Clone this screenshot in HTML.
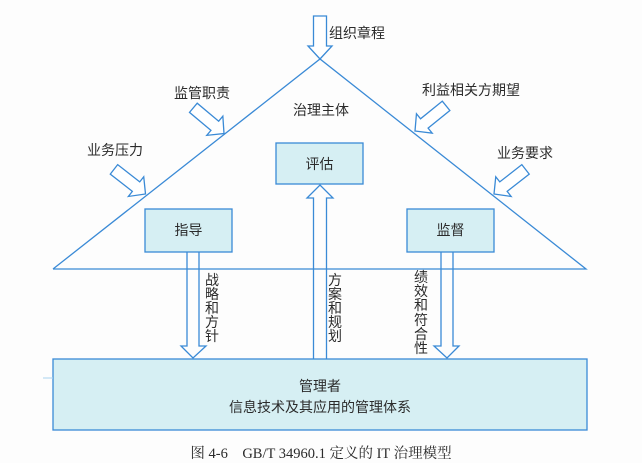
<!DOCTYPE html>
<html>
<head>
<meta charset="utf-8">
<style>
  html,body{margin:0;padding:0;background:#fff;}
  svg{display:block;}
  .t{font-family:"Liberation Sans","Noto Sans CJK SC",sans-serif;fill:#2b2b2b;font-size:14px;}
  .cap{font-family:"Liberation Serif","Noto Serif CJK SC",serif;fill:#2b2b2b;font-size:14.5px;}
</style>
</head>
<body>
<svg width="642" height="463" viewBox="0 0 642 463" xmlns="http://www.w3.org/2000/svg">
  <rect width="642" height="463" fill="#fdfdfd"/>
  <g stroke="#3a8ad6" stroke-width="1.3" fill="none">
    <!-- triangle -->
    <polyline points="53,269 320,59 586,269 53,269"/>
    <!-- top arrow -->
    <polygon points="313.5,16 326.5,16 326.5,46 332,46 320,59 308,46 313.5,46" fill="#fff"/>
    <!-- side arrows: tip at origin pointing +x -->
    <polygon points="0,0 -12,-12.5 -12,-6 -40,-6 -40,6 -12,6 -12,12.5" fill="#fff" transform="translate(224,133.5) rotate(40)"/>
    <polygon points="0,0 -12,-12.5 -12,-6 -40,-6 -40,6 -12,6 -12,12.5" fill="#fff" transform="translate(145.5,194) rotate(38)"/>
    <polygon points="0,0 -12,-12.5 -12,-6 -40,-6 -40,6 -12,6 -12,12.5" fill="#fff" transform="translate(415,131) rotate(141)"/>
    <polygon points="0,0 -12,-12.5 -12,-6 -40,-6 -40,6 -12,6 -12,12.5" fill="#fff" transform="translate(494,194) rotate(142)"/>
    <!-- boxes -->
    <rect x="276" y="143" width="87" height="41" fill="#d6eff3"/>
    <rect x="145" y="209" width="87" height="43" fill="#d6eff3"/>
    <rect x="407" y="209" width="87" height="43" fill="#d6eff3"/>
    <rect x="53" y="359" width="534" height="71" fill="#d6eff3"/>
    <!-- down arrow left -->
    <polyline points="187,252 187,346 181,346 193,358 206,346 199,346 199,252"/>
    <!-- down arrow right -->
    <polyline points="441,252 441,346 434,346 447,358 459,346 453,346 453,252"/>
    <!-- up arrow middle -->
    <polyline points="313.5,359 313.5,198 307,198 320,185 333,198 326.5,198 326.5,359"/>
    <!-- faint artifact -->
    <line x1="43" y1="378" x2="53" y2="378" stroke="#a9d3ef" stroke-width="1"/>
  </g>

  <!-- labels -->
  <text class="t" x="329" y="38">组织章程</text>
  <text class="t" x="174" y="98">监管职责</text>
  <text class="t" x="87" y="155">业务压力</text>
  <text class="t" x="422" y="95">利益相关方期望</text>
  <text class="t" x="497" y="158">业务要求</text>
  <text class="t" x="321" y="115" text-anchor="middle">治理主体</text>
  <text class="t" x="319.5" y="169" text-anchor="middle">评估</text>
  <text class="t" x="188.5" y="235" text-anchor="middle">指导</text>
  <text class="t" x="450.5" y="235" text-anchor="middle">监督</text>

  <!-- vertical labels -->
  <g class="t" text-anchor="middle">
    <text x="212" y="285">战</text>
    <text x="212" y="299">略</text>
    <text x="212" y="313">和</text>
    <text x="212" y="327">方</text>
    <text x="212" y="341">针</text>

    <text x="335" y="285">方</text>
    <text x="335" y="299">案</text>
    <text x="335" y="313">和</text>
    <text x="335" y="327">规</text>
    <text x="335" y="341">划</text>

    <text x="421" y="282">绩</text>
    <text x="421" y="296">效</text>
    <text x="421" y="310">和</text>
    <text x="421" y="325">符</text>
    <text x="421" y="339">合</text>
    <text x="421" y="353">性</text>
  </g>

  <text class="t" x="320" y="391" text-anchor="middle">管理者</text>
  <text class="t" x="320" y="412" text-anchor="middle">信息技术及其应用的管理体系</text>

  <text class="cap" x="321" y="458" text-anchor="middle">图 4-6　GB/T 34960.1 定义的 IT 治理模型</text>
</svg>
</body>
</html>
